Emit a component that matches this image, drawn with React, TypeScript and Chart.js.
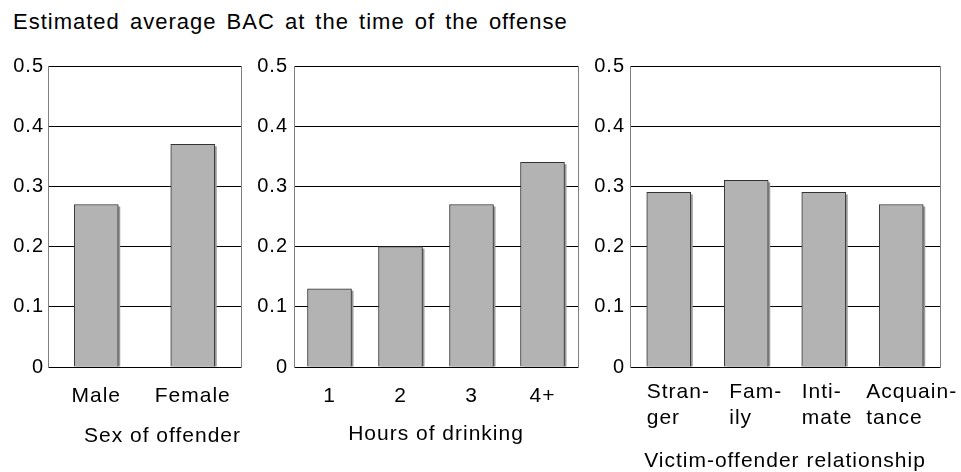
import React, { useEffect, useRef } from 'react';
import { Chart, registerables } from 'chart.js';

Chart.register(...registerables);

const chartTitle = 'Estimated average BAC at the time of the offense';

const sexLabels = ['Male', 'Female'];
const sexValues = [0.27, 0.37];

const hoursLabels = ['1', '2', '3', '4+'];
const hoursValues = [0.13, 0.2, 0.27, 0.34];

const relLabels = [['Stran-', 'ger'], ['Fam-', 'ily'], ['Inti-', 'mate'], ['Acquain-', 'tance']];
const relValues = [0.29, 0.31, 0.29, 0.27];

const axisTitles = ['Sex of offender', 'Hours of drinking', 'Victim-offender relationship'];

const yMin = 0;
const yMax = 0.5;
const yStep = 0.1;

const FONT = '"Liberation Sans", Arial, sans-serif';

type Panel = {
  labels: any[];
  values: number[];
  xTitle: string;
  titleAlign: 'start' | 'center' | 'end';
  left: number;
  width: number;
  yWidth: number;
  padRight: number;
  yTickPad: number;
  xTickPad: number;
  tickAlign: 'start' | 'center' | 'end';
  labelOffset: number;
  titlePadBottom: number;
  nudges: number[];
};

const panels: Panel[] = [
  {
    labels: sexLabels, values: sexValues, xTitle: axisTitles[0], titleAlign: 'end',
    left: 0, width: 250, yWidth: 48, padRight: 9, yTickPad: 4, xTickPad: 17,
    tickAlign: 'center', labelOffset: 0, titlePadBottom: 25, nudges: [],
  },
  {
    labels: hoursLabels, values: hoursValues, xTitle: axisTitles[1], titleAlign: 'center',
    left: 250, width: 340, yWidth: 44, padRight: 12, yTickPad: 6, xTickPad: 17,
    tickAlign: 'center', labelOffset: 0, titlePadBottom: 27, nudges: [],
  },
  {
    labels: relLabels, values: relValues, xTitle: axisTitles[2], titleAlign: 'center',
    left: 585, width: 376, yWidth: 45, padRight: 21, yTickPad: 5, xTickPad: 13,
    tickAlign: 'start', labelOffset: -22, titlePadBottom: 0, nudges: [0, 5, 0, -13],
  },
];

const spacingPlugin = {
  id: 'letterSpacing',
  beforeUpdate(chart: any) {
    chart.ctx.letterSpacing = '1px';
  },
  beforeDraw(chart: any) {
    chart.ctx.letterSpacing = '1px';
  },
};

const shadowPlugin = {
  id: 'barShadow',
  beforeDatasetsDraw(chart: any) {
    const ctx = chart.ctx;
    const meta = chart.getDatasetMeta(0);
    ctx.save();
    ctx.fillStyle = '#9a9a9a';
    meta.data.forEach((el: any) => {
      const p = el.getProps(['x', 'y', 'base', 'width'], true);
      ctx.fillRect(p.x - p.width / 2 + 2, p.y + 2, p.width, p.base - p.y - 2);
    });
    ctx.restore();
  },
};

function makeNudgePlugin(nudges: number[]) {
  return {
    id: 'labelNudge',
    beforeDraw(chart: any) {
      if (!nudges.length) return;
      const scale = chart.scales.x;
      const items = scale.getLabelItems(chart.chartArea);
      if (items._nudged) return;
      items.forEach((it: any, i: number) => {
        const d = nudges[i] || 0;
        if (it.options && it.options.translation) it.options.translation[0] += d;
      });
      items._nudged = true;
    },
  };
}

function BarPanel({ p }: { p: Panel }) {
  const ref = useRef<HTMLCanvasElement>(null);
  useEffect(() => {
    if (!ref.current) return;
    const chart = new Chart(ref.current, {
      type: 'bar',
      data: {
        labels: p.labels,
        datasets: [
          {
            data: p.values,
            backgroundColor: '#b3b3b3',
            borderColor: '#333333',
            borderWidth: 1,
            barThickness: 44,
          },
        ],
      },
      plugins: [spacingPlugin, shadowPlugin, makeNudgePlugin(p.nudges)],
      options: {
        animation: false,
        responsive: false,
        events: [],
        layout: { autoPadding: false, padding: { top: 16, right: p.padRight, left: 0, bottom: 0 } },
        plugins: { legend: { display: false }, tooltip: { enabled: false }, title: { display: false } },
        scales: {
          x: {
            type: 'category',
            grid: { display: false, drawTicks: false },
            border: { display: true, color: '#000000', width: 1 },
            ticks: {
              color: '#000000',
              font: { family: FONT, size: 21, lineHeight: 1.2 },
              padding: p.xTickPad,
              align: p.tickAlign,
              labelOffset: p.labelOffset,
              autoSkip: false,
              maxRotation: 0,
              minRotation: 0,
            },
            title: {
              display: true,
              text: p.xTitle,
              align: p.titleAlign,
              color: '#000000',
              font: { family: FONT, size: 21, lineHeight: 1 },
              padding: { top: 0, bottom: p.titlePadBottom },
            },
            afterFit: (s: any) => {
              s.height = 105;
              s.paddingLeft = 0;
              s.paddingRight = 0;
            },
          },
          y: {
            type: 'linear',
            min: yMin,
            max: yMax,
            grid: { color: '#000000', lineWidth: 1, drawTicks: false },
            border: { display: true, color: '#808080', width: 1 },
            ticks: {
              stepSize: yStep,
              color: '#000000',
              font: { family: FONT, size: 20 },
              padding: p.yTickPad,
            },
            afterFit: (s: any) => {
              s.width = p.yWidth;
              s.paddingTop = 0;
              s.paddingBottom = 0;
            },
          },
          y2: {
            type: 'linear',
            position: 'right',
            display: true,
            grid: { display: false, drawTicks: false },
            border: { display: true, color: '#808080', width: 1 },
            ticks: { display: false },
            afterFit: (s: any) => {
              s.width = 0;
            },
          },
        },
      } as any,
    });
    return () => chart.destroy();
  }, [p]);
  return (
    <canvas
      ref={ref}
      width={p.width}
      height={422}
      style={{ position: 'absolute', left: p.left, top: 50, width: p.width, height: 422 }}
    />
  );
}

export default function App() {
  return (
    <div
      style={{
        position: 'fixed',
        left: 0,
        top: 0,
        width: 961,
        height: 472,
        background: '#ffffff',
        overflow: 'hidden',
      }}
    >
      <div
        style={{
          position: 'absolute',
          left: 13,
          top: 11,
          fontFamily: FONT,
          fontSize: 22,
          lineHeight: 1,
          letterSpacing: '1px',
          wordSpacing: '3px',
          whiteSpace: 'nowrap',
          color: '#000',
        }}
      >
        {chartTitle}
      </div>
      {panels.map((p, i) => (
        <BarPanel key={i} p={p} />
      ))}
    </div>
  );
}
